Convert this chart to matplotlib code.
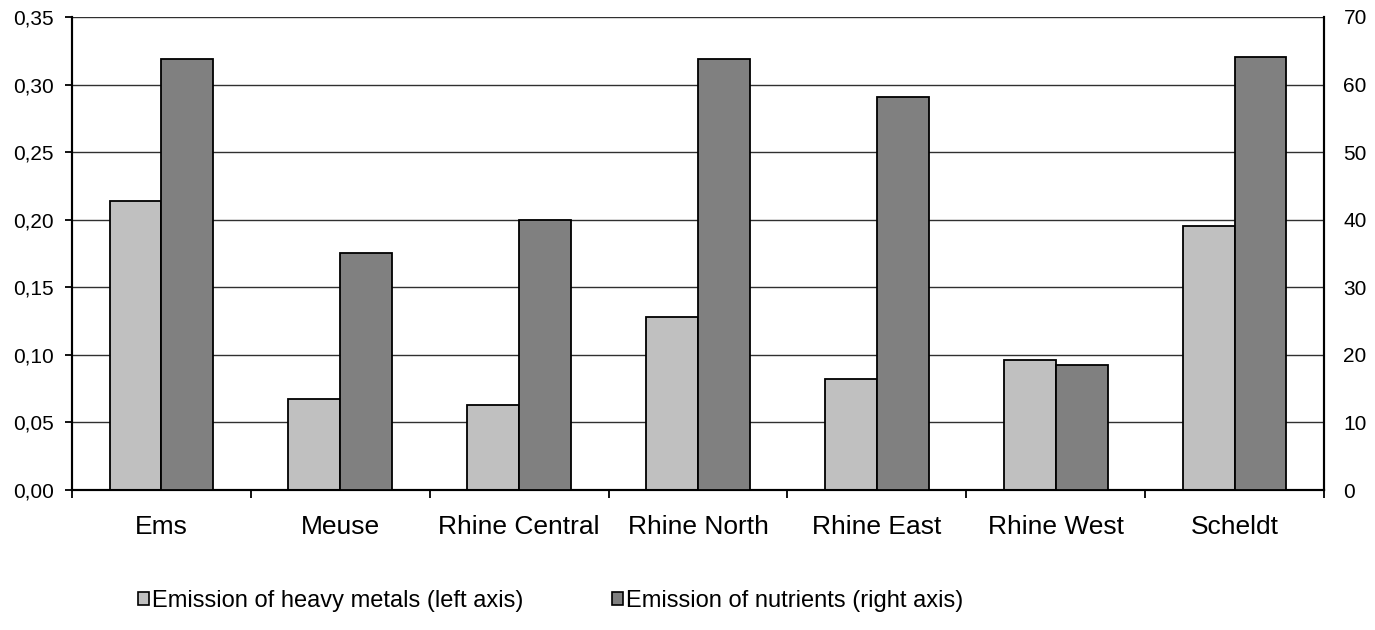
import numpy as np
import matplotlib
matplotlib.use("Agg")
import matplotlib.pyplot as plt
from matplotlib.patches import Patch
from matplotlib.ticker import FixedLocator, FuncFormatter

plt.rcParams['font.family'] = ['Liberation Sans', 'DejaVu Sans']

# Data
rivers = ['Ems', 'Meuse', 'Rhine Central', 'Rhine North', 'Rhine East', 'Rhine West', 'Scheldt']
heavy_metals = [0.214, 0.067, 0.063, 0.128, 0.082, 0.096, 0.195]   # left axis
nutrients = [63.8, 35.1, 40.0, 63.8, 58.2, 18.5, 64.1]            # right axis
left_ticks = [0.00, 0.05, 0.10, 0.15, 0.20, 0.25, 0.30, 0.35]
right_ticks = [0, 10, 20, 30, 40, 50, 60, 70]

light = '#c0c0c0'
dark = '#808080'
w = 0.29
x = np.arange(len(rivers))

fig = plt.figure(figsize=(13.75, 6.3), dpi=100)
ax = fig.add_axes([72 / 1375, 1 - 490 / 630, (1324 - 72) / 1375, (490 - 17) / 630])
ax2 = ax.twinx()

ax.bar(x - w / 2, heavy_metals, w, color=light, edgecolor='black', linewidth=1.3, zorder=3)
ax2.bar(x + w / 2, nutrients, w, color=dark, edgecolor='black', linewidth=1.3, zorder=3)

ax.set_xlim(-0.5, len(rivers) - 0.5)
ax.set_ylim(0, 0.35)
ax2.set_ylim(0, 70)

ax.set_yticks(left_ticks)
ax.yaxis.set_major_formatter(FuncFormatter(lambda v, p: f'{v:.2f}'.replace('.', ',')))
ax2.set_yticks(right_ticks)

ax.set_axisbelow(True)
ax.yaxis.grid(True, color='#303030', linewidth=1.0)

ax.set_xticks(x)
ax.set_xticklabels(rivers, fontsize=19)
ax.xaxis.set_minor_locator(FixedLocator(np.arange(-0.5, len(rivers), 1.0)))
ax.tick_params(axis='x', which='major', length=0, pad=18)
ax.tick_params(axis='x', which='minor', length=6, width=1.3, direction='out')
ax.tick_params(axis='y', length=5, width=1.3, direction='out', labelsize=15, pad=8)
ax2.tick_params(axis='y', length=0, labelsize=15, pad=14)

for a in (ax, ax2):
    a.spines['top'].set_visible(False)
    for s in ('left', 'right', 'bottom'):
        a.spines[s].set_linewidth(1.5)
        a.spines[s].set_color('black')

handles = [Patch(facecolor=light, edgecolor='black', linewidth=1.2),
           Patch(facecolor=dark, edgecolor='black', linewidth=1.2)]
labels = ['Emission of heavy metals (left axis)', 'Emission of nutrients (right axis)']
fig.legend(handles, labels, ncol=2, loc='center left',
           bbox_to_anchor=(117 / 1375, 1 - 601 / 630), frameon=False,
           fontsize=17, handlelength=0.45, handleheight=0.45,
           handletextpad=0.15, columnspacing=3.75)

fig.savefig('out.png', dpi=100)
